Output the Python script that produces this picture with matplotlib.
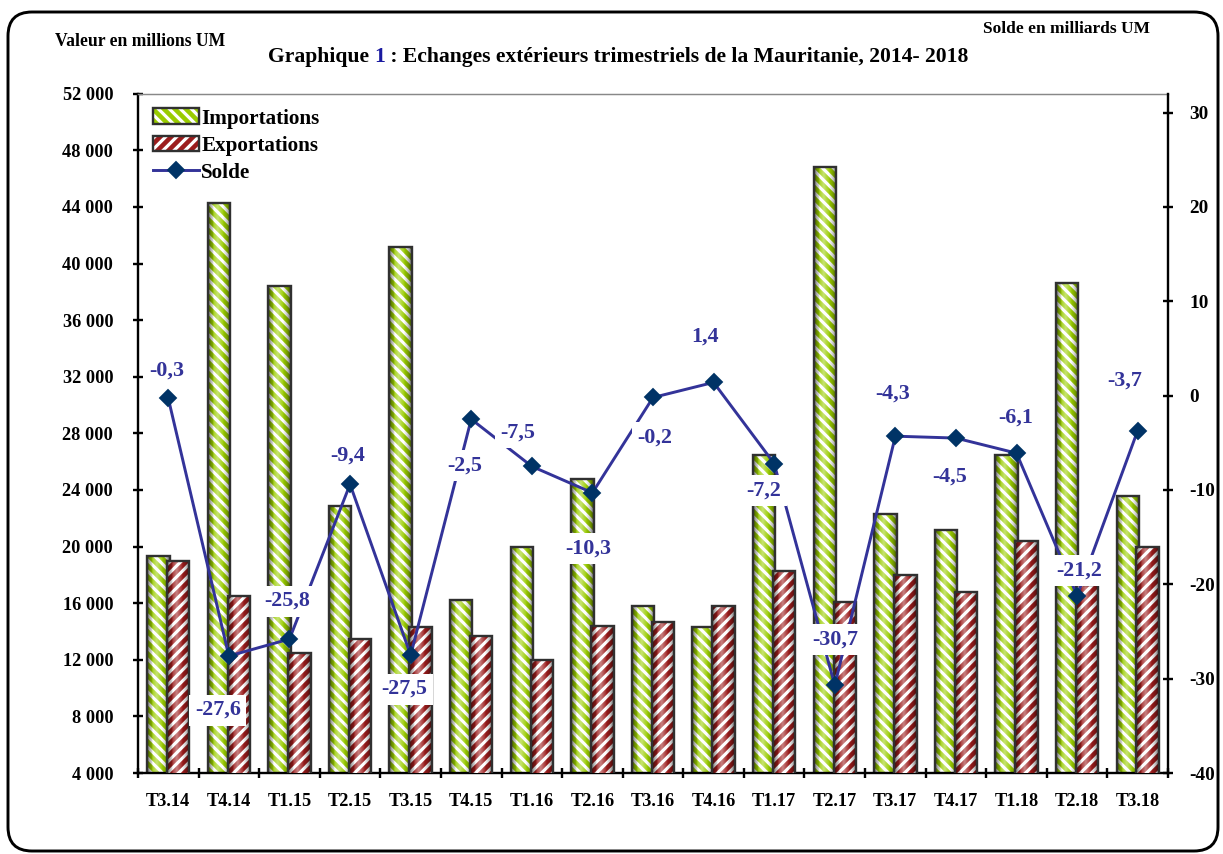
import numpy as np
import matplotlib
matplotlib.use('Agg')
import matplotlib.pyplot as plt
from matplotlib.patches import FancyBboxPatch, Patch
from matplotlib.lines import Line2D
from matplotlib.transforms import IdentityTransform

# ---- donnees ----
categories = ['T3.14', 'T4.14', 'T1.15', 'T2.15', 'T3.15', 'T4.15', 'T1.16', 'T2.16', 'T3.16',
              'T4.16', 'T1.17', 'T2.17', 'T3.17', 'T4.17', 'T1.18', 'T2.18', 'T3.18']
importations = [19300, 44300, 38400, 22900, 41200, 16200, 20000, 24800, 15800,
                14300, 26500, 46800, 22300, 21200, 26500, 38600, 23600]
exportations = [19000, 16500, 12500, 13500, 14300, 13700, 11950, 14400, 14700,
                15800, 18300, 16100, 18000, 16800, 20400, 17250, 20000]
solde = [-0.3, -27.6, -25.8, -9.4, -27.5, -2.5, -7.5, -10.3, -0.2,
         1.4, -7.2, -30.7, -4.3, -4.5, -6.1, -21.2, -3.7]

# decalage des etiquettes du solde (pixels)
label_offsets = [(-2, 28), (-11, -54), (-2, 38), (-2, 29), (-6, -34), (-7, -46), (-14, 34),
                 (-4, -56), (2, -40), (-9, 46), (-10, -27), (0, 46), (-3, 43), (-6, -39),
                 (-1, 36), (2, 25), (-13, 50)]

GREEN = '#99cc00'
RED = '#9b1c1c'
LINE = '#333399'
MARK = '#003366'
OUTLINE = '#303030'

plt.rcParams['font.family'] = ['Liberation Serif', 'DejaVu Serif']
plt.rcParams['font.weight'] = 'bold'
plt.rcParams['hatch.linewidth'] = 2.5

DPI = 132
fig = plt.figure(figsize=(1223 / DPI, 854 / DPI), dpi=DPI)
ax = fig.add_axes([138 / 1223, 81 / 854, 1030 / 1223, 679.3 / 854])
ax2 = ax.twinx()

x = np.arange(len(categories))
w = 0.37

# degrade "cylindre" pour les barres
t = np.linspace(-1, 1, 120)
a_dark = 0.65 * np.abs(t) ** 2.5
a_light = 0.45 * np.clip(1 - np.abs(t + 0.15) * 1.8, 0, 1)
grad = np.zeros((1, len(t), 4))
light = a_light > a_dark
grad[0, light, :3] = 1.0
grad[0, :, 3] = np.where(light, a_light, a_dark)

HATCH_IMP = '\\\\\\\\'
HATCH_EXP = '////'


def draw_bars(vals, off, col, hatch, z):
    bars = ax.bar(x + off, vals, w, color='white', edgecolor=col, linewidth=0, hatch=hatch, zorder=z)
    for b in bars:
        x0 = b.get_x()
        ax.imshow(grad, extent=(x0, x0 + b.get_width(), 0, b.get_height()), aspect='auto',
                  interpolation='bilinear', zorder=z + 0.1)
    ax.bar(x + off, vals, w, fill=False, edgecolor=OUTLINE, linewidth=1.3, zorder=z + 0.2)


draw_bars(importations, -0.165, GREEN, HATCH_IMP, 2)
draw_bars(exportations, 0.165, RED, HATCH_EXP, 3)

ax2.plot(x, solde, color=LINE, lw=1.6, marker='D', ms=6, mfc=MARK, mec=MARK, zorder=5)
for i, v in enumerate(solde):
    ax2.annotate(f'{v:.1f}'.replace('.', ','), (x[i], v), xytext=label_offsets[i],
                 textcoords='offset pixels', ha='center', va='center', color=LINE,
                 fontsize=12, fontweight='bold', zorder=6,
                 bbox=dict(boxstyle='square,pad=0.25', fc='white', ec='none'))

# axes
ax.set_xlim(-0.5, len(categories) - 0.5)
ax.set_ylim(4000, 52000)
ax2.set_ylim(-40, 32)

ax.set_xticks(x)
ax.set_xticklabels(categories, fontsize=10)
ax.tick_params(axis='x', which='major', length=0, pad=11)
ax.set_xticks(np.arange(-0.5, len(categories), 1), minor=True)
ax.tick_params(axis='x', which='minor', length=5, width=1.3, direction='inout')

yt = np.arange(4000, 52001, 4000)
ax.set_yticks(yt)
ax.set_yticklabels([f'{v:,}'.replace(',', ' ') for v in yt], fontsize=10)
ax.tick_params(axis='y', length=5, width=1.3, direction='inout', pad=11)

ax2.set_yticks(np.arange(-40, 31, 10))
ax2.set_yticklabels([str(v) for v in np.arange(-40, 31, 10)], fontsize=10.5)
ax2.tick_params(axis='y', length=5, width=1.3, direction='inout', pad=9)

for s in ['left', 'bottom']:
    ax.spines[s].set_linewidth(1.3)
ax.spines['right'].set_visible(False)
ax.spines['top'].set_color('#888888')
ax.spines['top'].set_linewidth(0.8)
for s in ['left', 'bottom', 'top']:
    ax2.spines[s].set_visible(False)
ax2.spines['right'].set_linewidth(1.3)

# legende
handles = [
    (Patch(fc='white', ec=GREEN, hatch=HATCH_IMP, lw=0), Patch(fill=False, ec=OUTLINE, lw=1.3)),
    (Patch(fc='white', ec=RED, hatch=HATCH_EXP, lw=0), Patch(fill=False, ec=OUTLINE, lw=1.3)),
    Line2D([], [], color=LINE, lw=1.6, marker='D', ms=6, mfc=MARK, mec=MARK),
]
ax2.legend(handles, ['Importations', 'Exportations', 'Solde'], loc='upper left',
           bbox_to_anchor=(0.0, 1.0), frameon=False, fontsize=11.5, handlelength=2.2,
           handleheight=0.75, handletextpad=0.1, labelspacing=0.34, borderaxespad=0.3)

# textes
fig.text(55 / 1223, 1 - 42 / 854, 'Valeur en millions UM', fontsize=9.6, va='center')
fig.text(1150 / 1223, 1 - 29 / 854, 'Solde en milliards UM', fontsize=9.5, va='center', ha='right')
t1 = fig.text(268 / 1223, 1 - 67 / 854, 'Graphique ', fontsize=11.8, va='bottom')
t2 = ax.annotate('1', xy=(1, 0), xycoords=t1, va='bottom', ha='left', fontsize=11.8,
                 color='#1a1aa0', annotation_clip=False)
ax.annotate(' : Echanges extérieurs trimestriels de la Mauritanie, 2014- 2018', xy=(1, 0),
            xycoords=t2, va='bottom', ha='left', fontsize=11.8, annotation_clip=False)

# cadre arrondi
fig.add_artist(FancyBboxPatch((8, 3), 1210, 839, boxstyle='round,pad=0,rounding_size=24',
                              fill=False, ec='black', lw=1.6, transform=IdentityTransform()))

fig.savefig('out.png', dpi=DPI)
